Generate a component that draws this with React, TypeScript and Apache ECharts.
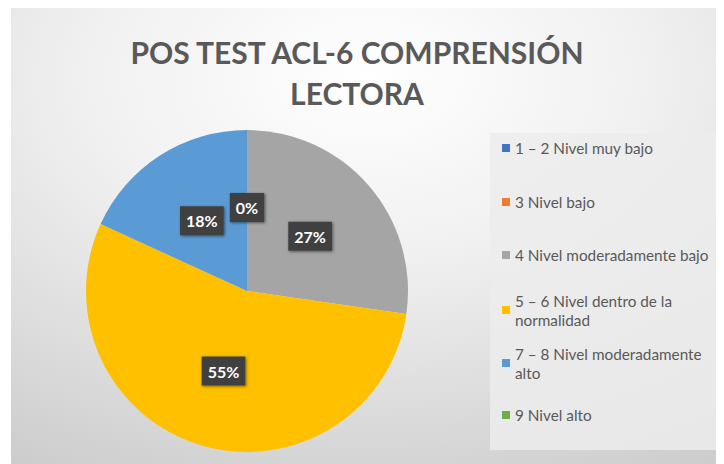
import React, { useEffect, useRef } from "react";
import * as echarts from "echarts";

const categories = [
  "1 – 2 Nivel muy bajo",
  "3 Nivel bajo",
  "4 Nivel moderadamente bajo",
  "5 – 6 Nivel dentro de la normalidad",
  "7 – 8 Nivel moderadamente alto",
  "9 Nivel alto",
];
const values = [0, 0, 3, 6, 2, 0];
const colors = ["#4472C4", "#ED7D31", "#A5A5A5", "#FFC000", "#5B9BD5", "#70AD47"];
const titleText = "POS TEST ACL-6 COMPRENSIÓN\nLECTORA";

// legend first-line centres (chart coords)
const legendCenters = [140, 194, 247, 302, 355, 407];

function wrapName(name: string): string {
  return name
    .replace(" la normalidad", " la\nnormalidad")
    .replace("moderadamente alto", "moderadamente\nalto");
}

export default function App() {
  const ref = useRef<HTMLDivElement>(null);
  useEffect(() => {
    if (!ref.current) return;
    const chart = echarts.init(ref.current, undefined, { renderer: "svg" });
    const LH = 19;
    const legends = categories.map((name, i) => {
      const multi = wrapName(name).includes("\n");
      const c = legendCenters[i];
      return {
        orient: "vertical",
        left: 491,
        top: multi ? c - 1.5 * LH : c - LH / 2,
        padding: 0,
        itemWidth: 8,
        itemHeight: 8,
        itemGap: 0,
        icon: "rect",
        data: [name],
        formatter: (n: string) => wrapName(n),
        textStyle: {
          fontFamily: "Lato",
          fontSize: 15.3,
          color: "#595959",
          lineHeight: LH,
          padding: multi ? [LH, 0, 0, 0] : 0,
        },
      };
    });
    chart.setOption({
      animation: false,
      backgroundColor: {
        type: "radial",
        x: 0.5,
        y: 0.15,
        r: 1.15,
        colorStops: [
          { offset: 0, color: "#ffffff" },
          { offset: 0.35, color: "#f0f0f0" },
          { offset: 1, color: "#c2c2c2" },
        ],
      },
      color: colors,
      title: {
        text: titleText,
        left: 346,
        top: 23,
        padding: 0,
        textAlign: "center",
        textStyle: {
          fontFamily: "Lato",
          fontSize: 30,
          fontWeight: "bold",
          color: "#595959",
          lineHeight: 41,
        },
      },
      graphic: [
        {
          type: "rect",
          left: 479,
          top: 125,
          shape: { width: 240, height: 317 },
          style: { fill: "rgba(236,236,236,0.85)" },
          z: -1,
        },
      ],
      legend: legends,
      series: [
        {
          type: "pie",
          center: [236, 283],
          radius: 161,
          startAngle: 90,
          clockwise: true,
          avoidLabelOverlap: false,
          percentPrecision: 0,
          itemStyle: { borderWidth: 0 },
          label: {
            show: true,
            position: "inside",
            formatter: "{d}%",
            fontFamily: "Lato",
            fontSize: 16,
            fontWeight: "bold",
            color: "#ffffff",
            backgroundColor: "#404040",
            padding: [6, 6, 6, 6],
            lineHeight: 17,
            shadowBlur: 3,
            shadowOffsetX: 1,
            shadowOffsetY: 1,
            shadowColor: "rgba(0,0,0,0.5)",
          },
          labelLine: { show: false },
          emphasis: { disabled: true },
          data: categories.map((name, i) => ({ name, value: values[i] })),
        },
      ],
    });
    return () => chart.dispose();
  }, []);
  return <div ref={ref} style={{ width: 713, height: 456, marginLeft: 3 }} />;
}
